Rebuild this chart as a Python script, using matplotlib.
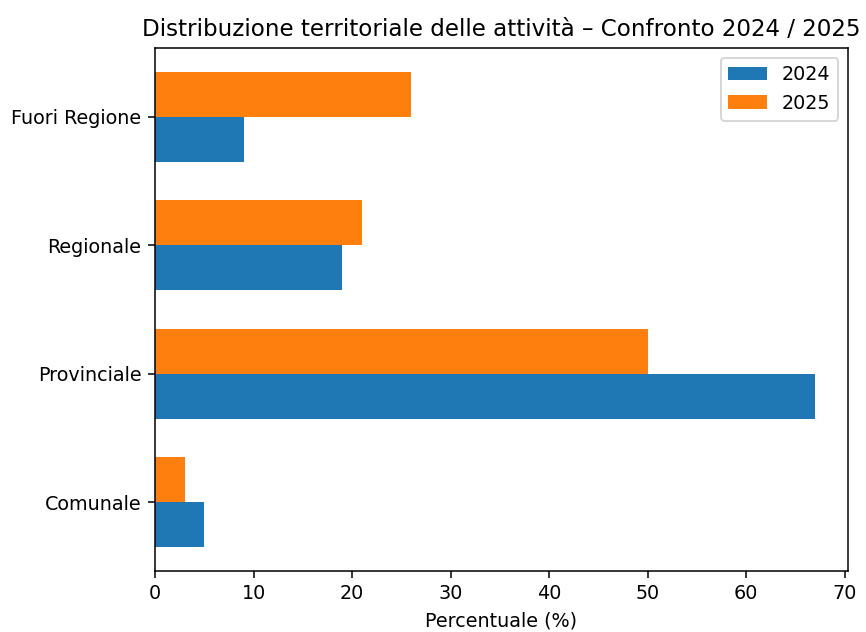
import numpy as np
import matplotlib
matplotlib.use("Agg")
import matplotlib.pyplot as plt

categories = ["Comunale", "Provinciale", "Regionale", "Fuori Regione"]
values_2024 = [5, 67, 19, 9]
values_2025 = [3, 50, 21, 26]

DPI = 138
fig = plt.figure(figsize=(866 / DPI, 632 / DPI), dpi=DPI)
ax = fig.add_axes([155 / 866, 1 - 571 / 632, (848 - 155) / 866, (571 - 48) / 632])

y = np.arange(len(categories))
h = 0.35
ax.barh(y - h / 2, values_2024, h, label="2024", color="#1f77b4")
ax.barh(y + h / 2, values_2025, h, label="2025", color="#ff7f0e")
ax.set_yticks(y)
ax.set_yticklabels(categories)
ax.set_xlabel("Percentuale (%)")
ax.set_title("Distribuzione territoriale delle attività – Confronto 2024 / 2025")
ax.legend()

fig.savefig("out.png", dpi=DPI)
